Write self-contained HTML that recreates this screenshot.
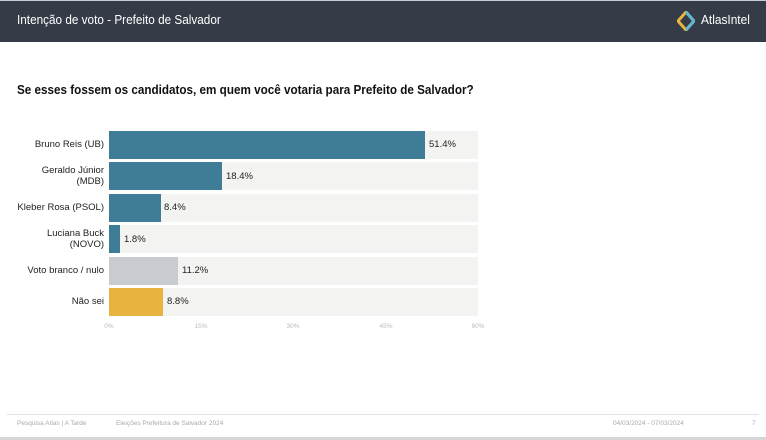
<!DOCTYPE html>
<html><head><meta charset="utf-8"><style>
body{margin:0;width:766px;height:440px;background:#fff;font-family:"Liberation Sans",sans-serif;position:relative;overflow:hidden}
.hdr{position:absolute;left:0;top:0;width:766px;height:42px;background:#353b47;border-top:1px solid #c8ccd2;box-sizing:border-box}
.hdr .t{position:absolute;left:17px;top:12px;color:#fff;font-size:12.5px;transform:scaleX(0.94);transform-origin:left}
.hdr .l{position:absolute;left:701px;top:12px;color:#fff;font-size:12.5px;transform:scaleX(0.95);transform-origin:left}
.q{position:absolute;left:17px;top:83px;font-size:12.5px;font-weight:bold;color:#111;transform:scaleX(0.935);transform-origin:left}
.track{position:absolute;left:109px;width:369px;height:28px;background:#f3f3f1}
.bar{position:absolute;left:109px;height:28px}
.lab{position:absolute;right:662px;text-align:right;font-size:9.5px;color:#222;line-height:11px}
.val{position:absolute;font-size:9.5px;color:#222}
.tk{position:absolute;top:323px;font-size:6.5px;color:#bbb;transform:translateX(-50%)}
.ft{position:absolute;top:420px;font-size:6.5px;color:#aaa}
</style></head><body>
<div class="hdr"><div class="t">Intenção de voto - Prefeito de Salvador</div>
<svg style="position:absolute;left:677px;top:10px" width="18" height="20" viewBox="0 0 18 20"><path d="M9 1 L17 10 L9 19 L1 10 Z" fill="none" stroke="#e9b53c" stroke-width="3"/><path d="M9 1 L17 10 L9 19" fill="none" stroke="#5fb6d6" stroke-width="3"/></svg>
<div class="l">AtlasIntel</div></div>
<div class="q">Se esses fossem os candidatos, em quem você votaria para Prefeito de Salvador?</div>

<div class="track" style="top:131px"></div><div class="bar" style="top:131px;width:316px;background:#3e7c98"></div>
<div class="track" style="top:162px"></div><div class="bar" style="top:162px;width:113px;background:#3e7c98"></div>
<div class="track" style="top:194px"></div><div class="bar" style="top:194px;width:52px;background:#3e7c98"></div>
<div class="track" style="top:225px"></div><div class="bar" style="top:225px;width:11px;background:#3e7c98"></div>
<div class="track" style="top:257px"></div><div class="bar" style="top:257px;width:69px;background:#c8ccd0"></div>
<div class="track" style="top:288px"></div><div class="bar" style="top:288px;width:54px;background:#e8b33f"></div>

<div class="lab" style="top:139px">Bruno Reis (UB)</div>
<div class="lab" style="top:165px">Geraldo Júnior<br>(MDB)</div>
<div class="lab" style="top:202px">Kleber Rosa (PSOL)</div>
<div class="lab" style="top:228px">Luciana Buck<br>(NOVO)</div>
<div class="lab" style="top:265px">Voto branco / nulo</div>
<div class="lab" style="top:296px">Não sei</div>

<div class="val" style="left:429px;top:139px">51.4%</div>
<div class="val" style="left:226px;top:171px">18.4%</div>
<div class="val" style="left:164px;top:202px">8.4%</div>
<div class="val" style="left:124px;top:234px">1.8%</div>
<div class="val" style="left:182px;top:265px">11.2%</div>
<div class="val" style="left:167px;top:296px">8.8%</div>

<div class="tk" style="left:109px">0%</div><div class="tk" style="left:201px">15%</div><div class="tk" style="left:293px">30%</div><div class="tk" style="left:386px">45%</div><div class="tk" style="left:478px">60%</div>

<div style="position:absolute;left:7px;top:414px;width:752px;height:1px;background:#e2e2e2"></div>
<div class="ft" style="left:17px">Pesquisa Atlas | A Tarde</div>
<div class="ft" style="left:116px">Eleições Prefeitura de Salvador 2024</div>
<div class="ft" style="left:613px">04/03/2024 - 07/03/2024</div>
<div class="ft" style="left:752px">7</div>
<div style="position:absolute;left:0;top:437px;width:766px;height:3px;background:#d6d6d6"></div>
</body></html>
